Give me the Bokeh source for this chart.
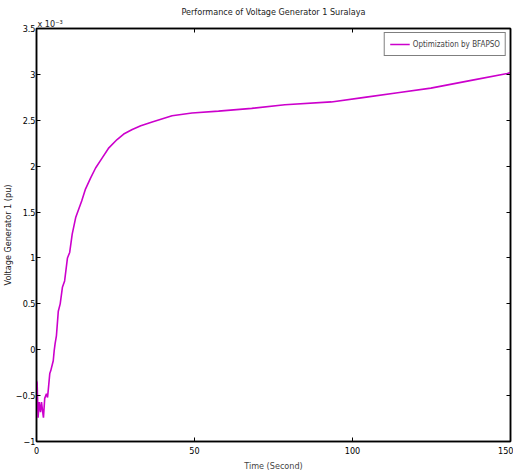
from bokeh.plotting import figure
from bokeh.models import FixedTicker, LinearAxis, Title, Range1d
from bokeh.embed import file_html
from bokeh.resources import INLINE

# Data (voltage values in units of 1e-3 pu)
time_s = [0, 0.2, 0.5, 0.85, 1.26, 1.58, 1.9, 2.2, 2.6, 3.15, 3.5, 3.8, 4.2, 4.5, 5.3, 5.6,
          5.9, 6.3, 6.9, 7.5, 8.2, 8.9, 9.8, 10.5, 11.3, 12.4, 14.3, 15.5, 17.1, 18.7, 20.8,
          22.9, 25.5, 27.6, 30.3, 33.0, 36.6, 42.9, 49.2, 57.6, 68.1, 78.6, 93.3, 103.8,
          114.3, 124.8, 138.4, 149.0, 150.0]
voltage_e3 = [-0.34, -0.36, -0.74, -0.57, -0.68, -0.57, -0.66, -0.74, -0.53, -0.48, -0.52,
              -0.41, -0.26, -0.23, -0.12, -0.01, 0.07, 0.15, 0.42, 0.50, 0.68, 0.75, 1.0,
              1.06, 1.26, 1.44, 1.62, 1.75, 1.87, 1.98, 2.09, 2.2, 2.29, 2.35, 2.40, 2.44,
              2.48, 2.55, 2.58, 2.60, 2.63, 2.67, 2.70, 2.75, 2.80, 2.85, 2.94, 3.01, 3.02]
x_ticks = [0, 50, 100, 150]
y_ticks = [-1, -0.5, 0, 0.5, 1, 1.5, 2, 2.5, 3, 3.5]

FONT = "'DejaVu Sans Condensed', 'Liberation Sans Narrow', 'Liberation Sans', sans-serif"

p = figure(width=513, height=473, output_backend="svg", toolbar_location=None,
           x_range=Range1d(0, 150), y_range=Range1d(-1, 3.5),
           min_border_left=34, min_border_right=3, min_border_top=28, min_border_bottom=32,
           x_axis_location=None, y_axis_location=None)
p.background_fill_color = "white"
p.border_fill_color = "white"
p.outline_line_color = "black"
p.outline_line_width = 1.5
p.xgrid.visible = False
p.ygrid.visible = False

p.line(time_s, voltage_e3, line_color="#cc00cc", line_width=1.6,
       legend_label="Optimization by BFAPSO")

def style(ax, labels=True):
    ax.major_tick_in = 4
    ax.major_tick_out = 0
    ax.minor_tick_in = 0
    ax.minor_tick_out = 0
    ax.axis_line_color = "black"
    ax.axis_line_width = 1.5
    ax.major_tick_line_color = "black"
    ax.major_label_text_font = FONT
    ax.major_label_text_font_size = "9px"
    ax.major_label_text_color = "black"
    ax.axis_label_text_font = FONT
    ax.axis_label_text_font_size = "9px"
    ax.axis_label_text_font_style = "normal"
    if not labels:
        ax.major_label_text_alpha = 0
        ax.major_label_text_font_size = "1px"

left = LinearAxis(ticker=FixedTicker(ticks=y_ticks))
style(left)
left.major_label_standoff = 1
p.add_layout(left, "left")
p.add_layout(Title(text="Voltage Generator 1 (pu)", align="center", standoff=0,
                   text_font=FONT, text_font_size="9px", text_font_style="normal",
                   text_color="#222222"), "left")

bottom = LinearAxis(ticker=FixedTicker(ticks=x_ticks), axis_label="Time (Second)")
style(bottom)
bottom.major_label_standoff = 5
bottom.axis_label_standoff = 4
p.add_layout(bottom, "below")

right = LinearAxis(ticker=FixedTicker(ticks=y_ticks))
style(right, labels=False)
right.major_label_standoff = 0
p.add_layout(right, "right")

top = LinearAxis(ticker=FixedTicker(ticks=x_ticks))
style(top, labels=False)
top.major_label_standoff = 0
p.add_layout(top, "above")
p.add_layout(Title(text="x 10⁻³", align="left", standoff=0, offset=1,
                   text_font=FONT, text_font_size="9px", text_font_style="normal",
                   text_color="#222222"), "above")
p.add_layout(Title(text="Performance of Voltage Generator 1 Suralaya", align="center",
                   standoff=0, text_font=FONT, text_font_size="9px",
                   text_font_style="normal", text_color="#222222"), "above")

leg = p.legend[0]
leg.location = "top_right"
leg.border_line_color = "black"
leg.border_line_width = 1
leg.label_text_font = FONT
leg.label_text_font_size = "8px"
leg.label_height = 12
leg.glyph_width = 20
leg.glyph_height = 12
leg.padding = 5
leg.spacing = 0
leg.margin = 4
leg.label_standoff = 3
leg.background_fill_alpha = 1

open("out.html", "w").write(file_html(p, INLINE))
